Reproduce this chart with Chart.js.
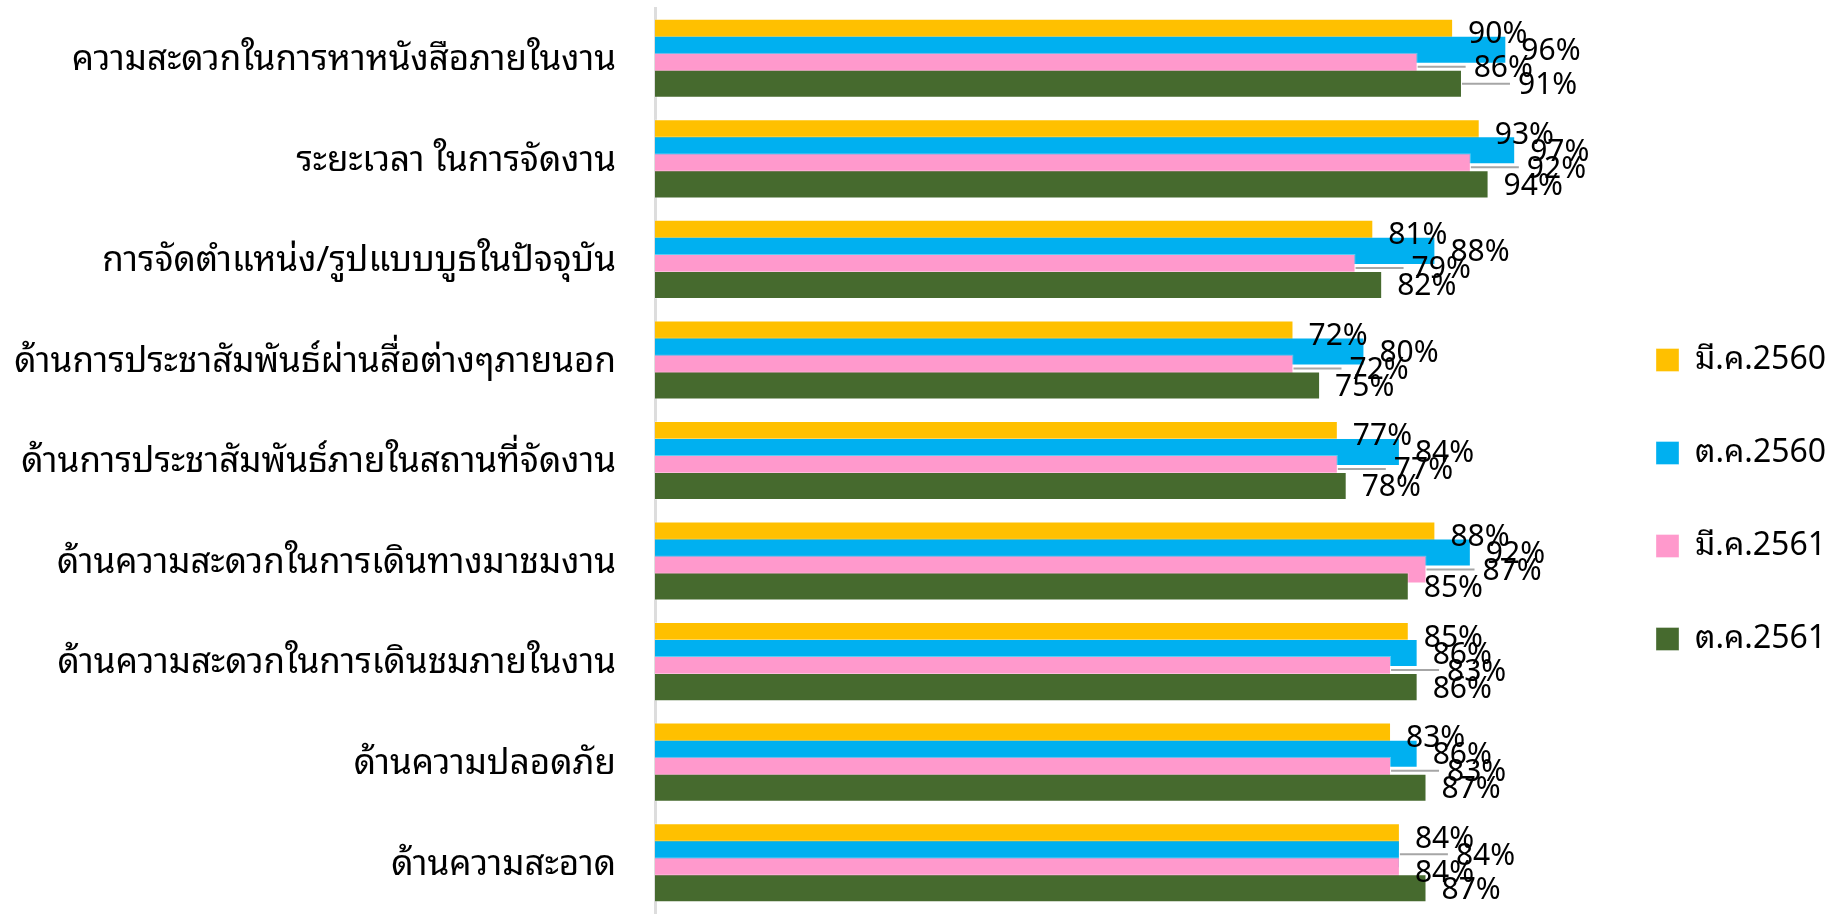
<!DOCTYPE html>
<html lang="th">
<head>
<meta charset="utf-8">
<title>ความพึงพอใจต่อการจัดงาน</title>
<script src="https://cdn.jsdelivr.net/npm/chart.js@4.4.1/dist/chart.umd.min.js"></script>
<style>
  html, body { margin: 0; padding: 0; background: #ffffff; }
  #wrap { width: 1829px; height: 923px; }
</style>
</head>
<body>
<div id="wrap"><canvas id="chart" width="1829" height="923"></canvas></div>
<script>
// Survey topics (top to bottom)
const categories = [
  'ความสะดวกในการหาหนังสือภายในงาน',
  'ระยะเวลา ในการจัดงาน',
  'การจัดตำแหน่ง/รูปแบบบูธในปัจจุบัน',
  'ด้านการประชาสัมพันธ์ผ่านสื่อต่างๆภายนอก',
  'ด้านการประชาสัมพันธ์ภายในสถานที่จัดงาน',
  'ด้านความสะดวกในการเดินทางมาชมงาน',
  'ด้านความสะดวกในการเดินชมภายในงาน',
  'ด้านความปลอดภัย',
  'ด้านความสะอาด'
];

// Survey rounds
const seriesNames = ['มี.ค.2560', 'ต.ค.2560', 'มี.ค.2561', 'ต.ค.2561'];

// Satisfaction scores (%) per round
const mar2560 = [90, 93, 81, 72, 77, 88, 85, 83, 84];
const oct2560 = [96, 97, 88, 80, 84, 92, 86, 86, 84];
const mar2561 = [86, 92, 79, 72, 77, 87, 83, 83, 84];
const oct2561 = [91, 94, 82, 75, 78, 85, 86, 87, 87];

const seriesValues = [mar2560, oct2560, mar2561, oct2561];
const seriesColors = ['#FFC000', '#00B0F0', '#FF99CC', '#466A2E'];

const FONT = '"Noto Sans Thai Looped", "Noto Sans", "Noto Sans Thai", sans-serif';
const LABEL_FONT_SIZE = 30;
const LABEL_GAP = 15;      // space between bar end and its value label
const LEADER_SHIFT = 41;   // extra push for labels that would sit on a neighbouring bar
const LABEL_DY = 2;

// Bars overlap like a fanned stack: later rounds are painted over earlier ones.
const paintInSeriesOrder = {
  id: 'paintInSeriesOrder',
  beforeDatasetsDraw(chart) {
    const metas = chart.getSortedVisibleDatasetMetas();
    for (let s = 0; s < metas.length; s++) {
      metas[s].controller.draw();
    }
    return false;
  }
};

// Value labels with leader lines when a label has to be moved aside.
const valueLabels = {
  id: 'valueLabels',
  afterDraw(chart) {
    const ctx = chart.ctx;
    const metas = chart.getSortedVisibleDatasetMetas();
    const n = chart.data.labels.length;
    ctx.save();
    ctx.font = LABEL_FONT_SIZE + 'px ' + FONT;
    ctx.textBaseline = 'middle';
    ctx.textAlign = 'left';
    for (let i = 0; i < n; i++) {
      let prevX = null;
      metas.forEach((meta, s) => {
        const bar = meta.data[i];
        const value = chart.data.datasets[meta.index].data[i];
        const natural = bar.x + LABEL_GAP;
        const above = s > 0 ? metas[s - 1].data[i] : null;
        const blockedByBar = above && above.x > natural + 4;
        const onTopOfPrev = prevX !== null && Math.abs(prevX - natural) < 4;
        let x = natural;
        if (blockedByBar || onTopOfPrev) {
          x = natural + LEADER_SHIFT;
          ctx.strokeStyle = '#A6A6A6';
          ctx.lineWidth = 2;
          ctx.beginPath();
          ctx.moveTo(bar.x, bar.y);
          ctx.lineTo(x - 8, bar.y);
          ctx.stroke();
        }
        ctx.fillStyle = '#000000';
        ctx.fillText(value + '%', x, bar.y + LABEL_DY);
        prevX = x;
      });
    }
    ctx.restore();
  }
};

new Chart(document.getElementById('chart'), {
  type: 'bar',
  data: {
    labels: categories,
    datasets: seriesNames.map((name, i) => ({
      label: name,
      data: seriesValues[i],
      backgroundColor: seriesColors[i],
      borderColor: 'rgba(255,255,255,0.35)',
      borderWidth: 1,
      categoryPercentage: 0.677,
      barPercentage: 1.647
    }))
  },
  options: {
    indexAxis: 'y',
    responsive: false,
    animation: false,
    layout: { padding: { top: 8, bottom: 10, left: 0, right: 0 } },
    scales: {
      x: { display: false, min: 0, max: 106 },
      y: {
        grid: { display: false, drawTicks: false },
        border: { display: true, color: '#DDDDDD', width: 3 },
        ticks: {
          autoSkip: false,
          padding: 39,
          labelOffset: 2,
          color: '#000000',
          font: { family: FONT, size: 35 }
        },
        afterFit(scale) {
          scale.width = 655;
          scale.paddingTop = 0;
          scale.paddingBottom = 0;
        }
      }
    },
    plugins: {
      tooltip: { enabled: false },
      legend: {
        position: 'right',
        maxWidth: 234,
        title: { display: true, text: '', padding: 33, font: { size: 10 } },
        labels: {
          boxWidth: 23,
          boxHeight: 23,
          padding: 61,
          color: '#000000',
          font: { family: FONT, size: 32 }
        }
      }
    }
  },
  plugins: [paintInSeriesOrder, valueLabels]
});
</script>
</body>
</html>
